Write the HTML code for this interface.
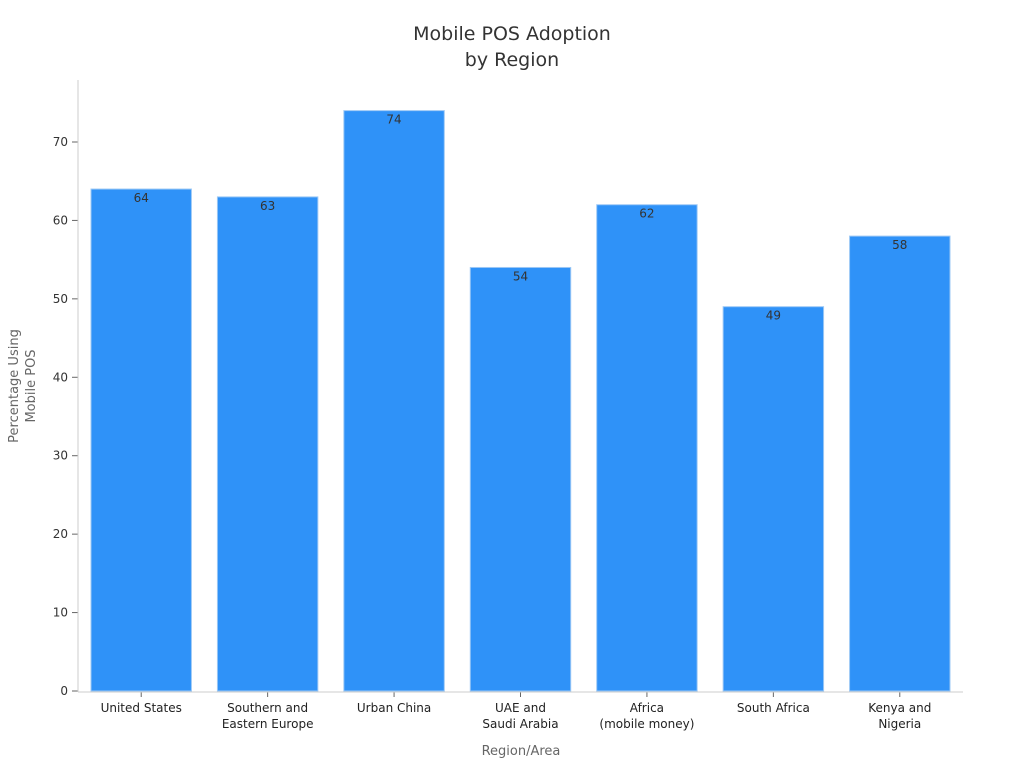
<!DOCTYPE html>
<html><head><meta charset="utf-8"><style>
body{margin:0;background:#fff;font-family:"DejaVu Sans","Liberation Sans",sans-serif;}
</style></head><body>
<svg width="1024" height="768" xmlns="http://www.w3.org/2000/svg" font-family="DejaVu Sans, Liberation Sans, sans-serif">
<text x="512" y="40" text-anchor="middle" font-size="19" fill="#333"><tspan x="512">Mobile POS Adoption</tspan><tspan x="512" dy="26">by Region</tspan></text>
<g id="yaxis"></g>
<g id="bars"></g>
<g id="xaxis"></g>
<line x1="78" y1="80" x2="78" y2="692" stroke="#ccc"/>
<line x1="78" y1="692" x2="963" y2="692" stroke="#ccc"/>
<text transform="translate(18,386) rotate(-90)" text-anchor="middle" font-size="13" fill="#666"><tspan x="0" dy="0">Percentage Using</tspan><tspan x="0" dy="17">Mobile POS</tspan></text>
<text x="521" y="755" text-anchor="middle" font-size="13" fill="#666">Region/Area</text>
</svg>
<script>
const categories=[["United States"],["Southern and","Eastern Europe"],["Urban China"],["UAE and","Saudi Arabia"],["Africa","(mobile money)"],["South Africa"],["Kenya and","Nigeria"]];
const values=[64,63,74,54,62,49,58];
const yTicks=[0,10,20,30,40,50,60,70];
const NS="http://www.w3.org/2000/svg";
const x0=78,x1=963,y0=691,pxPer=7.843;
const band=(x1-x0)/categories.length;
function y(v){return y0-v*pxPer;}
function bx(i){return x0+i*band+13;}
const bw=band-26;
function mk(t,a,p){const e=document.createElementNS(NS,t);for(const k in a)e.setAttribute(k,a[k]);p.appendChild(e);return e;}
const ya=document.getElementById('yaxis'),ba=document.getElementById('bars'),xa=document.getElementById('xaxis');
yTicks.forEach(t=>{
 const l=mk('line',{x1:72,x2:78,y1:y(t),y2:y(t),stroke:'#666'},ya);
 
 
 const tx=mk('text',{x:68,y:y(t)+4,'text-anchor':'end','font-size':12,fill:'#333'},ya);
 tx.textContent=t;
 
 
});
values.forEach((v,i)=>{
 const r=mk('rect',{x:bx(i),y:y(v),width:bw,height:y0-y(v),fill:'#2f92f8',stroke:'#9cc8f5','stroke-width':1},ba);
 
 
 const t=mk('text',{x:bx(i)+bw/2,y:y(v)+13,'text-anchor':'middle','font-size':12,fill:'#333'},ba);
 t.textContent=v;
 
 
 const cx=bx(i)+bw/2;
 const tk=mk('line',{x1:cx,x2:cx,y1:692,y2:697,stroke:'#666'},xa);
 
 
 const lab=mk('text',{x:cx,y:712,'text-anchor':'middle','font-size':12,fill:'#222'},xa);
 
 
 categories[i].forEach((s,j)=>{const ts=mk('tspan',{x:cx,dy:j?16:0},lab);ts.textContent=s;});
});
</script>
</body></html>
